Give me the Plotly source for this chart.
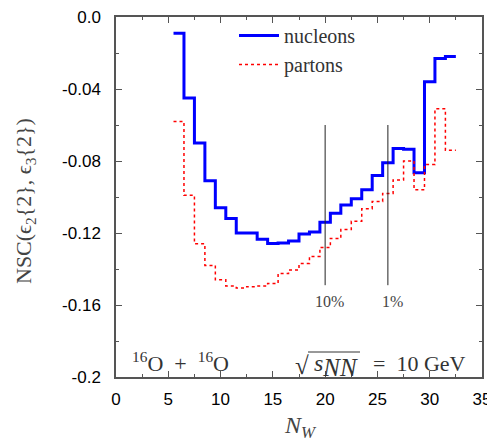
import plotly.graph_objects as go

# ---- data ----
N_W = list(range(6, 33))
nucleons = [-0.009, -0.045, -0.070, -0.091, -0.106, -0.112, -0.120, -0.120, -0.1235,
            -0.1258, -0.1255, -0.1245, -0.1205, -0.1195, -0.114, -0.109, -0.1045,
            -0.101, -0.096, -0.088, -0.081, -0.073, -0.0735, -0.0865, -0.036, -0.023, -0.022]
partons = [-0.058, -0.099, -0.126, -0.138, -0.146, -0.1495, -0.1505, -0.1498, -0.1495,
           -0.148, -0.1425, -0.1405, -0.137, -0.133, -0.128, -0.123, -0.118, -0.1135,
           -0.1065, -0.1025, -0.098, -0.0905, -0.080, -0.096, -0.082, -0.051, -0.074]
centrality_N = [20, 26]
centrality_labels = ["10%", "1%"]
centrality_top = -0.06
centrality_bottom = -0.149
y_ticks = [0.0, -0.04, -0.08, -0.12, -0.16, -0.2]
y_ticktext = ["0.0", "-0.04", "-0.08", "-0.12", "-0.16", "-0.2"]
x_ticks = [0, 5, 10, 15, 20, 25, 30, 35]

# bin edges for step histogram drawing
edges = [n - 0.5 for n in N_W] + [N_W[-1] + 0.5]
nuc_y = nucleons + [nucleons[-1]]
par_y = partons + [partons[-1]]

SERIF = "Liberation Serif"
SANS = "Liberation Sans"
TXT = "#333333"

# page offset compensation (browser body margin)
OX, OY = 8, 8
W, H = 487, 437
L, R, T, B = 116 - OX, 13, 17 - OY, 68
PW = W - L - R
PH = H - T - B


def px(xp):
    return (xp - OX - L) / PW


def py(yp):
    return (H - B + OY - yp) / PH


fig = go.Figure()
fig.add_trace(go.Scatter(x=edges, y=nuc_y, mode="lines", line_shape="hv",
                         line=dict(color="#0000ff", width=3), name="nucleons"))
fig.add_trace(go.Scatter(x=edges, y=par_y, mode="lines", line_shape="hv",
                         line=dict(color="#ff0000", width=1.5, dash="dot"), name="partons"))
for n in centrality_N:
    fig.add_trace(go.Scatter(x=[n, n], y=[centrality_top, centrality_bottom], mode="lines",
                             line=dict(color="#222222", width=1), showlegend=False,
                             hoverinfo="skip"))

annotations = []
for n, lab in zip(centrality_N, centrality_labels):
    annotations.append(dict(x=n + 0.4, y=-0.158, xref="x", yref="y", text=lab,
                            showarrow=False, font=dict(family=SERIF, size=16, color="#444444")))
annotations.append(dict(x=px(130), y=py(362), xref="paper", yref="paper",
                        text="<sup>16</sup>O&nbsp; + &nbsp;<sup>16</sup>O", showarrow=False,
                        xanchor="left", yanchor="middle",
                        font=dict(family=SERIF, size=22, color=TXT)))
# sqrt(s_NN) = 10 GeV, in pieces
annotations.append(dict(x=px(468), y=py(363), xref="paper", yref="paper",
                        text="=&nbsp;&nbsp;10 GeV", showarrow=False,
                        xanchor="right", yanchor="middle",
                        font=dict(family=SERIF, size=22, color=TXT)))
annotations.append(dict(x=px(360), y=py(365), xref="paper", yref="paper",
                        text="<i>s</i><sub><span style='font-size:25px'><i>NN</i></span></sub>",
                        showarrow=False, xanchor="right", yanchor="middle",
                        font=dict(family=SERIF, size=24, color=TXT)))
annotations.append(dict(x=px(311), y=py(365), xref="paper", yref="paper",
                        text="√", showarrow=False, xanchor="right", yanchor="middle",
                        font=dict(family=SERIF, size=25, color=TXT)))
annotations.append(dict(x=px(25), y=py(201), xref="paper", yref="paper",
                        text="NSC(ϵ<sub>2</sub>{2}, ϵ<sub>3</sub>{2})", textangle=-90,
                        showarrow=False, xanchor="center", yanchor="middle",
                        font=dict(family=SERIF, size=22, color="#444444")))
annotations.append(dict(x=px(300), y=py(427), xref="paper", yref="paper",
                        text="<i>N<sub>W</sub></i>", showarrow=False,
                        xanchor="center", yanchor="middle",
                        font=dict(family=SERIF, size=24, color="#444444")))

# overline of the square root
shapes = [dict(type="line", xref="paper", yref="paper", x0=px(308), x1=px(360),
               y0=py(352), y1=py(352), line=dict(color=TXT, width=1))]

axis_common = dict(showline=True, linecolor="#555555", linewidth=1.5, mirror="allticks",
                   ticks="inside", ticklen=6, tickwidth=1, tickcolor="#555555",
                   showgrid=False, zeroline=False, automargin=False,
                   ticklabeloverflow="allow",
                   tickfont=dict(family=SANS, size=17, color="#000000"))

fig.update_layout(
    width=W, height=H,
    margin=dict(l=L, r=R, t=T, b=B, autoexpand=False),
    font=dict(family=SERIF, color=TXT),
    plot_bgcolor="white", paper_bgcolor="white",
    xaxis=dict(range=[0, 35], tickvals=x_ticks, ticklabelstandoff=6,
               minor=dict(dtick=2.5, ticklen=3, ticks="inside", tickcolor="#555555"),
               **axis_common),
    yaxis=dict(range=[-0.2, 0.0], tickvals=y_ticks, ticktext=y_ticktext, ticklabelstandoff=10,
               minor=dict(dtick=0.02, ticklen=3, ticks="inside", tickcolor="#555555"),
               **axis_common),
    legend=dict(x=px(234), y=py(16), xanchor="left", yanchor="top",
                bgcolor="rgba(0,0,0,0)", font=dict(family=SERIF, size=20, color=TXT),
                tracegroupgap=0, itemwidth=40),
    annotations=annotations,
    shapes=shapes,
    showlegend=True,
)

fig.write_html("out.html")
